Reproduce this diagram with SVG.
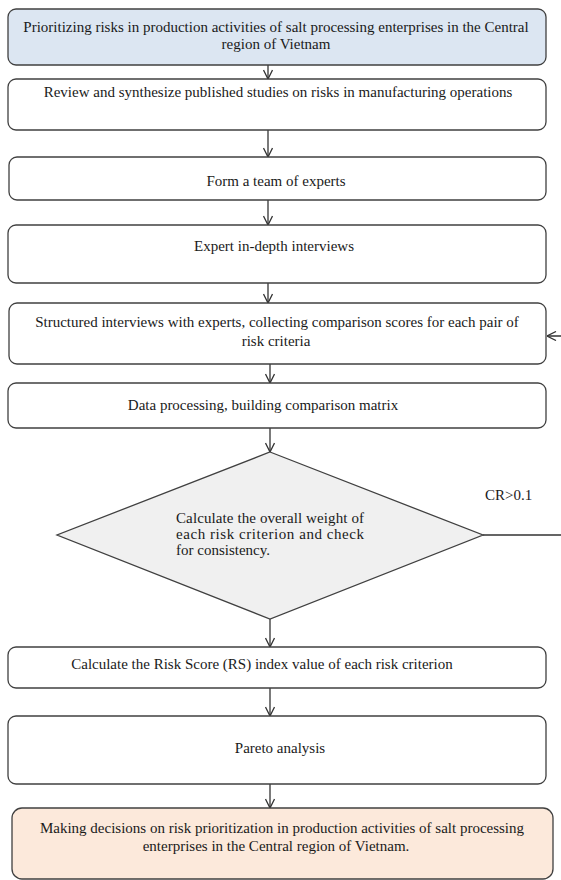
<svg xmlns="http://www.w3.org/2000/svg" width="561" height="880" viewBox="0 0 561 880">
<style>
.box{fill:#ffffff;stroke:#404040;stroke-width:1.3}
.t{font-family:'Liberation Serif','Times New Roman',Times,serif;font-size:15px;fill:#1a1a1a;text-anchor:middle}
.tl{font-family:'Liberation Serif','Times New Roman',Times,serif;font-size:15px;fill:#1a1a1a}
.c{fill:none;stroke:#333333;stroke-width:1.3}
</style>
<defs>
<marker id="ah" viewBox="0 0 10 10" refX="10" refY="5" markerWidth="10" markerHeight="10" markerUnits="userSpaceOnUse" orient="auto">
<path d="M1,0.5 L10,5 L1,9.5" fill="none" stroke="#333333" stroke-width="1.3"/>
</marker>
</defs>
<rect width="561" height="880" fill="#ffffff"/>
<g id="connectors">
<line class="c" x1="268" y1="65" x2="268" y2="79" marker-end="url(#ah)"/>
<line class="c" x1="268" y1="130" x2="268" y2="157" marker-end="url(#ah)"/>
<line class="c" x1="268" y1="200" x2="268" y2="225" marker-end="url(#ah)"/>
<line class="c" x1="268" y1="283" x2="268" y2="303" marker-end="url(#ah)"/>
<line class="c" x1="270" y1="364" x2="270" y2="383" marker-end="url(#ah)"/>
<line class="c" x1="270" y1="428" x2="270" y2="452" marker-end="url(#ah)"/>
<line class="c" x1="270" y1="619" x2="270" y2="647" marker-end="url(#ah)"/>
<line class="c" x1="270" y1="688" x2="270" y2="716" marker-end="url(#ah)"/>
<line class="c" x1="270" y1="784" x2="270" y2="808" marker-end="url(#ah)"/>
<path class="c" d="M483,535 H565 V336 H547" marker-end="url(#ah)"/>
</g>
<g id="n1">
<rect x="8" y="9" width="538" height="56" rx="8" class="box" style="fill:#dce6f2"/>
<text class="t" font-family="Liberation Serif" x="276" y="32">Prioritizing risks in production activities  of salt processing enterprises in the Central</text>
<text class="t" font-family="Liberation Serif" x="276" y="49">region of Vietnam</text>
</g>
<g id="n2">
<rect x="8" y="79" width="538" height="51" rx="8" class="box"/>
<text class="t" font-family="Liberation Serif" x="278" y="97">Review and synthesize published studies on risks in manufacturing  operations</text>
</g>
<g id="n3">
<rect x="9" y="157" width="537" height="43" rx="8" class="box"/>
<text class="t" font-family="Liberation Serif" x="276" y="186">Form a team  of experts</text>
</g>
<g id="n4">
<rect x="8" y="225" width="538" height="58" rx="8" class="box"/>
<text class="t" font-family="Liberation Serif" x="274" y="251">Expert in-depth  interviews</text>
</g>
<g id="n5">
<rect x="9" y="303" width="537" height="61" rx="8" class="box"/>
<text class="t" font-family="Liberation Serif" x="277" y="327">Structured interviews with experts, collecting comparison scores for each pair of</text>
<text class="t" font-family="Liberation Serif" x="276" y="346">risk criteria</text>
</g>
<g id="n6">
<rect x="8" y="383" width="538" height="45" rx="8" class="box"/>
<text class="t" font-family="Liberation Serif" x="263" y="410">Data processing, building comparison matrix</text>
</g>
<g id="n7">
<polygon points="270,452 483,535 270,619 57,535" fill="#f0f0f0" stroke="#404040" stroke-width="1.3"/>
<text class="tl" font-family="Liberation Serif" x="176" y="523" textLength="188" lengthAdjust="spacing">Calculate the overall weight of</text>
<text class="tl" font-family="Liberation Serif" x="176" y="539" textLength="188" lengthAdjust="spacing">each risk criterion and check</text>
<text class="tl" font-family="Liberation Serif" x="176" y="555">for consistency.</text>
</g>
<text class="tl" font-family="Liberation Serif" x="485" y="500">CR&gt;0.1</text>
<g id="n8">
<rect x="8" y="647" width="538" height="41" rx="8" class="box"/>
<text class="t" font-family="Liberation Serif" x="262" y="669">Calculate the Risk Score (RS) index value of each risk criterion</text>
</g>
<g id="n9">
<rect x="8" y="716" width="538" height="68" rx="8" class="box"/>
<text class="t" font-family="Liberation Serif" x="280" y="753">Pareto analysis</text>
</g>
<g id="n10">
<rect x="12" y="808" width="541" height="71" rx="10" class="box" style="fill:#fce9db"/>
<text class="t" font-family="Liberation Serif" x="282" y="833">Making decisions on risk prioritization  in production activities  of salt processing</text>
<text class="t" font-family="Liberation Serif" x="276" y="851">enterprises in the Central region of Vietnam.</text>
</g>
</svg>
